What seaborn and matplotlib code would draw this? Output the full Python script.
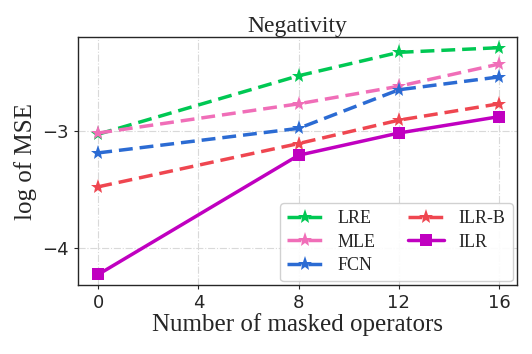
import matplotlib
matplotlib.use("Agg")
import matplotlib.pyplot as plt
import numpy as np
import pandas as pd
import seaborn as sns

masked = [0, 8, 12, 16]
lre = [-3.03, -2.53, -2.33, -2.29]
mle = [-3.02, -2.77, -2.62, -2.43]
fcn = [-3.19, -2.98, -2.65, -2.54]
ilr_b = [-3.48, -3.11, -2.91, -2.77]
ilr = [-4.23, -3.21, -3.02, -2.88]

methods = ["LRE", "MLE", "FCN", "ILR-B", "ILR"]
colors = ["#00c853", "#f06eb8", "#2b6bd3", "#ef4650", "#c000c0"]

df = pd.DataFrame({
    "masked": masked * 5,
    "mse": lre + mle + fcn + ilr_b + ilr,
    "method": np.repeat(methods, len(masked)),
})

sns.set_style("ticks")
plt.rcParams["font.family"] = ["Liberation Serif", "DejaVu Serif"]

fig = plt.figure(figsize=(5.32, 3.54), dpi=100)
ax = fig.add_axes([0.147, 0.195, 0.824, 0.70])

sns.lineplot(
    data=df, x="masked", y="mse", hue="method", style="method",
    hue_order=methods, style_order=methods,
    palette=dict(zip(methods, colors)),
    dashes={"LRE": (4, 2), "MLE": (4, 2), "FCN": (4, 2), "ILR-B": (4, 2), "ILR": ""},
    markers={"LRE": "*", "MLE": "*", "FCN": "*", "ILR-B": "*", "ILR": "s"},
    markersize=11, markeredgewidth=0, linewidth=2.5, ax=ax,
)
for line in ax.lines:
    if line.get_marker() == "s":
        line.set_markersize(8.5)

ax.set_xlim(-0.8, 16.7)
ax.set_ylim(-4.32, -2.2)
ax.set_xticks([0, 4, 8, 12, 16])
ax.set_yticks([-4, -3])
ax.set_yticklabels(["\u22124", "\u22123"])
for lab in ax.get_xticklabels() + ax.get_yticklabels():
    lab.set_fontfamily("DejaVu Sans")
ax.grid(True, linestyle="-.", color="#d9d9d9", linewidth=0.8)
ax.tick_params(labelsize=13, length=3)
ax.set_xlabel("Number of masked operators", fontsize=18, labelpad=1)
ax.set_ylabel("log of MSE", fontsize=18, labelpad=4)
ax.set_title("Negativity", fontsize=17, pad=4)
for s in ax.spines.values():
    s.set_linewidth(1.0)

leg = ax.legend(ncol=2, fontsize=13, loc="lower right", handlelength=2.0,
                columnspacing=1.8, borderpad=0.4, borderaxespad=0.2,
                labelspacing=0.35, framealpha=0.9)
for h in leg.legend_handles:
    if h.get_marker() == "s":
        h.set_markersize(8.5)

fig.savefig("out.png", dpi=100)
